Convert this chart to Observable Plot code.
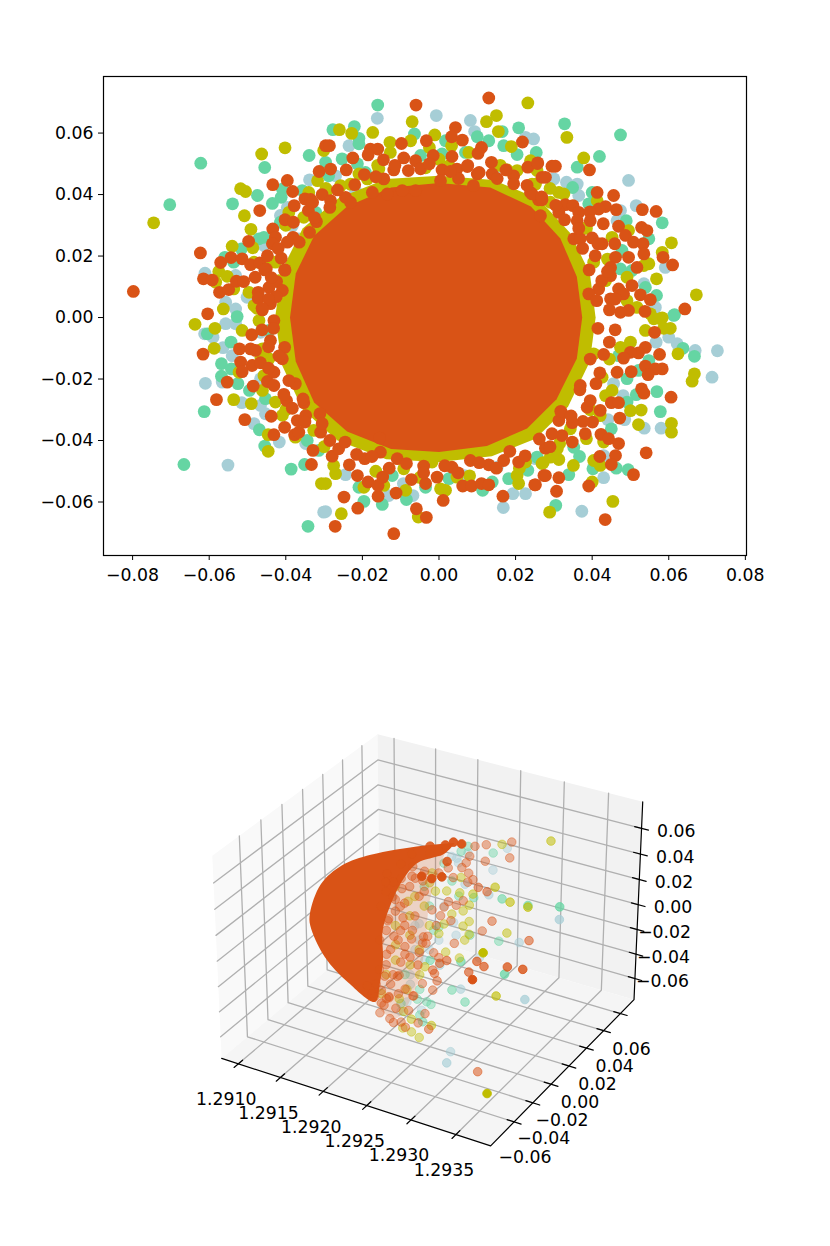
<!DOCTYPE html>
<html>
<head>
<meta charset="utf-8">
<script src="https://cdn.jsdelivr.net/npm/d3@7"></script>
<script src="https://cdn.jsdelivr.net/npm/@observablehq/plot@0.6"></script>
<style>
  html, body { margin: 0; padding: 0; background: white; }
  svg { display: block; }
</style>
</head>
<body>
<div id="chart"></div>
<script>
// scatter colours, drawn in this order
const tealColor = "#a6ced6", greenColor = "#65d5a3", oliveColor = "#c0bd00", orangeColor = "#d95316";

// top panel, [x, y]
const tealTop = [[-.0338,.0448],[-.0611,.0144],[-.0531,.0137],[-.0557,.0050],[-.0531,.0028],[-.0501,.0066],[-.0414,.0332],[-.0383,.0299],[-.0396,.0358],[-.0457,.0234],[-.0366,.0256],[-.0557,-.0020],[-.0531,-.0020],
  [-.0612,-.0053],[-.0590,-.0064],[-.0564,-.0098],[-.0540,-.0124],[-.0610,-.0214],[-.0566,-.0210],[-.0551,-.0480],[-.0515,-.0277],[-.0483,-.0345],[-.0453,-.0313],[-.0417,-.0405],[-.0348,-.0410],[-.0301,-.0633],[-.0466,-.0286],[-.0466,-.0048],[-.0466,-.0199],
  [-.0161,.0648],[-.0007,.0657],[.0082,.0641],[.0093,.0605],[-.0235,.0559],[.0247,.0581],[.0226,.0586],[.0155,.0491],[-.0218,.0413],[-.0270,.0461],
  [.0495,.0446],[.0361,.0434],[.0333,.0440],[.0365,.0397],[.0300,.0451],[.0515,.0364],[.0474,.0348],[.0465,.0315],[.0591,.0163],[.0535,.0110],[.0565,.0033],
  [.0727,-.0108],[.0669,-.0107],[.0713,-.0194],[.0622,-.0085],[.0600,-.0064],[.0567,-.0080],[.0580,-.0360],[.0536,-.0360],[.0485,-.0332],[.0441,-.0332],[.0481,-.0254],[.0456,-.0215],[.0430,-.0521],[.0373,-.0630],[.0430,-.0449],
  [-.0296,-.0631],[-.0131,-.0579],[-.0068,-.0579],[-.0093,-.0540],[-.0244,-.0511],[.0168,-.0618],[.0193,-.0573],[.0226,-.0573],[.0067,-.0514],[.0152,-.0487],[.0252,-.0459]];
const greenTop = [[-.0622,.0502],[-.0703,.0367],[-.0455,.0488],[-.0339,.0527],[-.0474,.0397],[-.0539,.0370],[-.0435,.0371],[-.0412,.0391],[-.0470,.0256],[-.0457,.0261],[-.0559,.0196],[-.0536,.0180],[-.0516,.0223],[-.0527,.0003],[-.0296,.0505],[-.0357,.0413],[-.0414,.0310],[-.0322,.0342],[-.0409,.0418],
  [-.0605,-.0053],[-.0543,-.0080],[-.0568,-.0150],[-.0568,-.0191],[-.0542,-.0167],[-.0525,-.0215],[-.0495,-.0237],[-.0613,-.0306],[-.0666,-.0478],[-.0469,-.0365],[-.0455,-.0418],[-.0386,-.0493],[-.0351,-.0478],[-.0342,-.0679],[-.0314,-.0432],[-.0344,-.0400],[-.0444,-.0042],[-.0453,-.0264],
  [-.0160,.0691],[-.0277,.0611],[-.0221,.0621],[-.0209,.0583],[-.0209,.0565],[-.0064,.0597],[.0208,.0617],[.0165,.0605],[.0100,.0588],[.0130,.0575],[.0169,.0559],[.0254,.0537],[.0204,.0530],[.0017,.0575],[-.0253,.0516],[-.0288,.0461],[-.0192,.0472],[-.0213,.0500],[.0069,.0537],[.0008,.0532],[-.0048,.0527],
  [.0328,.0630],[.0474,.0594],[.0419,.0524],[.0361,.0489],[.0349,.0423],[.0400,.0407],[.0583,.0308],[.0548,.0256],[.0489,.0315],[.0568,.0072],[.0539,.0098],[.0615,.0009],[.0474,.0158],[.0504,.0153],[.0391,.0370],[.0478,.0218],
  [.0613,.0007],[.0637,-.0100],[.0667,-.0126],[.0569,-.0241],[.0515,-.0251],[.0578,-.0306],[.0491,-.0275],[.0491,-.0199],[.0450,-.0362],[.0367,-.0452],[.0339,-.0511],[.0402,-.0492],[.0463,-.0490],[.0494,-.0495],[.0305,-.0611],[.0548,-.0140],[.0469,-.0124],[.0352,-.0422],[.0521,-.0172],
  [-.0196,-.0598],[-.0148,-.0608],[-.0085,-.0592],[-.0209,-.0552],[-.0122,-.0514],[-.0035,-.0552],[.0114,-.0562],[.0232,-.0497],[.0182,-.0524],[.0026,-.0524],[.0139,-.0535],[.0256,-.0454]];
const oliveTop = [[-.0463,.0532],[-.0402,.0552],[-.0745,.0308],[-.0518,.0419],[-.0505,.0410],[-.0508,.0331],[-.0491,.0287],[-.0540,.0232],[-.0486,.0227],[-.0575,.0150],[-.0553,.0134],[-.0583,.0115],[-.0563,.0028],[-.0637,-.0022],[-.0585,-.0035],[-.0587,-.0100],[-.0317,.0445],[-.0301,.0543],[-.0340,.0407],[-.0353,.0326],[-.0392,.0342],[-.0483,.0180],[-.0496,.0082],[-.0483,.0039],[-.0536,.0093],[-.0418,.0120],[-.0427,.0180],
  [-.0536,-.0267],[-.0490,-.0280],[-.0514,-.0042],[-.0470,-.0010],[-.0522,-.0178],[-.0461,-.0237],[-.0427,-.0275],[-.0409,-.0318],[-.0446,-.0381],[-.0446,-.0435],[-.0375,-.0389],[-.0327,-.0367],[-.0307,-.0540],[-.0461,-.0102],[-.0444,-.0134],[-.0457,-.0189],[-.0322,-.0275],
  [-.0260,.0611],[-.0228,.0599],[-.0173,.0602],[-.0070,.0637],[.0232,.0698],[.0124,.0637],[.0150,.0657],[.0155,.0605],[.0189,.0556],[-.0011,.0594],[-.0074,.0575],[-.0128,.0570],[-.0127,.0537],[.0033,.0559],[.0078,.0537],[-.0025,.0553],[-.0209,.0467],[-.0187,.0451],[-.0257,.0429],[-.0231,.0434],[-.0157,.0483],[.0178,.0480],[.0204,.0478],[.0239,.0510],[.0256,.0478],[.0243,.0434],[-.0292,.0413],[.0026,.0494],[-.0035,.0487],[.0121,.0423],
  [.0334,.0586],[.0378,.0519],[.0252,.0434],[.0291,.0375],[.0313,.0407],[.0326,.0402],[.0607,.0243],[.0583,.0212],[.0548,.0175],[.0535,.0169],[.0568,.0126],[.0672,.0074],[.0491,.0131],[.0495,.0283],[.0413,.0380],[.0517,.0033],[.0583,-.0001],[.0552,.0012],[.0374,.0082],[.0404,.0180],[.0369,.0293],[.0491,.0055],[.0452,.0261],
  [.0539,-.0042],[.0587,-.0035],[.0604,-.0035],[.0561,-.0004],[.0578,-.0004],[.0624,-.0118],[.0667,-.0183],[.0661,-.0207],[.0500,-.0303],[.0528,-.0301],[.0521,-.0348],[.0607,-.0344],[.0607,-.0373],[.0452,-.0237],[.0435,-.0254],[.0421,-.0319],[.0385,-.0394],[.0430,-.0405],[.0404,-.0465],[.0421,-.0481],[.0351,-.0481],[.0313,-.0462],[.0272,-.0472],[.0291,-.0454],[.0400,-.0535],[.0454,-.0598],[.0289,-.0633],[.0500,-.0080],[.0474,-.0097],[.0404,-.0118],[.0426,-.0194],[.0343,-.0362],[.0309,-.0427],
  [-.0255,-.0638],[-.0270,-.0508],[-.0296,-.0540],[-.0054,-.0649],[-.0087,-.0562],[.0004,-.0557],[.0017,-.0562],[.0208,-.0540],[.0204,-.0514],[.0226,-.0470],[-.0196,-.0552],[-.0144,-.0546],[-.0018,-.0470],[.0047,-.0519],[-.0275,-.0481],[.0269,-.0475],[-.0092,-.0492],
  [.0435,.0120],[.0445,-.0135],[.0395,-.0300],[.0315,-.0410],[.0210,-.0490],[.0080,-.0515],[-.0050,-.0520],[-.0165,-.0500],[-.0300,-.0420],[-.0400,-.0300],[-.0465,-.0130],[-.0475,.0030],[-.0450,.0170],[-.0400,.0300],[-.0295,.0420],[-.0160,.0495],[.0000,.0515],[.0160,.0495],[.0290,.0420],[.0385,.0290],[.0440,.0190]];
const orangeTop = [[-.0798,.0085],[-.0623,.0210],[-.0570,.0179],[-.0543,.0195],[-.0514,.0191],[-.0615,.0126],[-.0592,.0122],[-.0573,.0082],[-.0549,.0091],[-.0529,.0118],[-.0510,.0117],[-.0480,.0131],[-.0492,.0172],[-.0468,.0178],[-.0451,.0158],[-.0448,.0201],[-.0497,.0248],[-.0434,.0288],[-.0468,.0348],[-.0402,.0318],[-.0434,.0432],[-.0396,.0446],[-.0382,.0410],[-.0378,.0364],[-.0313,.0475],[-.0350,.0386],[-.0335,.0384],[-.0341,.0348],[-.0305,.0400],[-.0320,.0312],[-.0338,.0277],[-.0381,.0261],[-.0427,.0261],[-.0435,.0240],[-.0396,.0245],[-.0412,.0193],[-.0403,.0154],[-.0424,.0117],[-.0444,.0098],[-.0472,.0082],[-.0472,.0063],[-.0409,.0088],[-.0461,.0025],[-.0440,.0045],[-.0604,.0012],[-.0296,.0559],
  [.0130,.0714],[-.0060,.0691],[.0043,.0618],[.0033,.0588],[.0061,.0577],[-.0033,.0575],[-.0286,.0559],[-.0098,.0566],[-.0179,.0548],[-.0160,.0548],[-.0185,.0529],[.0111,.0553],[.0102,.0534],[-.0225,.0519],[-.0015,.0527],[.0034,.0524],[-.0145,.0513],[-.0092,.0519],[-.0283,.0483],[-.0242,.0480],[.0137,.0505],[.0232,.0489],[.0257,.0501],[.0218,.0571],[.0269,.0456],[-.0118,.0480],[-.0061,.0510],[.0008,.0480],[.0047,.0483],[.0074,.0491],[.0100,.0467],[.0139,.0467],[.0195,.0461],[-.0144,.0451],[-.0048,.0484],[.0004,.0445],[.0051,.0452],[.0152,.0452],[.0090,.0429],[-.0244,.0391],[-.0174,.0407],[-.0096,.0413],[-.0061,.0413],[-.0283,.0380],[-.0231,.0375],[-.0135,.0402],[.0239,.0407],[.0260,.0383],
  [.0258,.0503],[.0295,.0492],[.0304,.0492],[.0393,.0480],[.0278,.0456],[.0413,.0407],[.0456,.0397],[.0463,.0351],[.0435,.0361],[.0417,.0353],[.0531,.0351],[.0567,.0345],[.0330,.0367],[.0350,.0364],[.0313,.0342],[.0365,.0342],[.0394,.0344],[.0265,.0331],[.0269,.0383],[.0243,.0402],[.0395,.0315],[.0361,.0315],[.0429,.0305],[.0469,.0297],[.0529,.0293],[.0543,.0283],[.0487,.0267],[.0508,.0245],[.0533,.0240],[.0459,.0240],[.0426,.0240],[.0400,.0259],[.0352,.0256],[.0369,.0256],[.0535,.0207],[.0461,.0196],[.0495,.0196],[.0585,.0196],[.0610,.0171],[.0517,.0163],[.0448,.0163],[.0408,.0201],[.0448,.0136],[.0504,.0104],[.0469,.0093],[.0526,.0074],[.0482,.0077],[.0552,.0058],[.0417,.0093],[.0391,.0077],[.0448,.0061],[.0642,.0028],[.0538,.0020],[.0495,.0023],[.0474,.0017],
  [-.0616,-.0119],[-.0489,-.0056],[-.0521,-.0102],[-.0440,-.0075],[-.0403,-.0097],[-.0431,-.0010],[-.0492,-.0102],[-.0479,-.0107],[-.0518,-.0145],[-.0488,-.0156],[-.0466,-.0147],[-.0514,-.0176],[-.0553,-.0210],[-.0485,-.0223],[-.0448,-.0208],[-.0431,-.0221],[-.0431,-.0178],[-.0409,-.0134],[-.0581,-.0267],[-.0507,-.0332],[-.0438,-.0321],[-.0403,-.0357],[-.0431,-.0381],[-.0377,-.0381],[-.0366,-.0373],[-.0370,-.0335],[-.0348,-.0319],[-.0311,-.0313],[-.0309,-.0373],[-.0329,-.0432],[-.0333,-.0478],[-.0398,-.0270],[-.0383,-.0295],[-.0353,-.0277],[-.0375,-.0215],
  [-.0248,-.0584],[-.0212,-.0620],[-.0271,-.0679],[-.0118,-.0703],[-.0059,-.0622],[-.0033,-.0650],[.0011,-.0595],[-.0159,-.0581],[-.0112,-.0571],[-.0185,-.0535],[-.0159,-.0546],[-.0147,-.0519],[-.0213,-.0514],[-.0234,-.0479],[-.0279,-.0451],[-.0072,-.0527],[-.0035,-.0540],[-.0005,-.0519],[.0062,-.0548],[.0085,-.0548],[.0111,-.0540],[.0130,-.0544],[.0167,-.0581],[.0208,-.0470],[.0250,-.0544],[.0034,-.0487],[.0130,-.0479],[.0169,-.0465],[.0274,-.0514],[-.0040,-.0483],[-.0109,-.0459],[-.0194,-.0459],[-.0153,-.0438],[-.0262,-.0427],[.0082,-.0465],[-.0155,-.0392],
  [.0563,-.0048],[.0576,-.0120],[.0539,-.0097],[.0521,-.0115],[.0500,-.0113],[.0482,-.0132],[.0539,-.0158],[.0583,-.0167],[.0565,-.0167],[.0546,-.0186],[.0502,-.0176],[.0465,-.0178],[.0529,-.0232],[.0535,-.0246],[.0606,-.0259],[.0410,-.0215],[.0369,-.0221],[.0450,-.0277],[.0469,-.0277],[.0387,-.0292],[.0421,-.0302],[.0472,-.0327],[.0401,-.0340],[.0376,-.0338],[.0348,-.0342],[.0321,-.0311],[.0313,-.0335],[.0382,-.0378],[.0423,-.0380],[.0443,-.0394],[.0469,-.0410],[.0348,-.0405],[.0321,-.0384],[.0295,-.0378],[.0278,-.0425],[.0461,-.0449],[.0420,-.0452],[.0450,-.0478],[.0541,-.0440],[.0508,-.0511],[.0278,-.0514],[.0313,-.0521],[.0252,-.0544],[.0307,-.0565],[.0391,-.0548],[.0434,-.0657],
  [.0030,.0475],[-.0080,.0478],[-.0165,.0458],[-.0220,.0432],[-.0285,.0358],[-.0325,.0325],[-.0365,.0245],[-.0402,.0155],[-.0425,.0068],[-.0432,-.0035],[-.0418,-.0125],[-.0392,-.0205],[-.0355,-.0265],[-.0305,-.0345],[-.0245,-.0405],[-.0175,-.0452],[-.0085,-.0475],[.0015,-.0482],[.0105,-.0472],[.0185,-.0435],[.0262,-.0395],[.0318,-.0305],[.0368,-.0235],[.0395,-.0135],[.0415,-.0035],[.0412,.0055],[.0392,.0155],[.0375,.0225],[.0328,.0318],[.0268,.0392],[.0195,.0435],[.0105,.0472],
  [.0445,-.0080],[.0445,.0025],[.0425,.0120],[.0420,-.0180],[-.0445,.0060],[-.0445,-.0095],[-.0455,.0155],
  [-.0265,.0415],[-.0330,.0375],[-.0380,.0310],[-.0420,.0225],[-.0438,.0130],[-.0462,.0030],[-.0462,-.0040],[-.0445,-.0165],[-.0405,-.0250],[-.0350,-.0340],[-.0285,-.0400],[-.0215,-.0445],[-.0130,-.0490],[-.0040,-.0505],[.0050,-.0505],[.0150,-.0490],[.0225,-.0450],[.0290,-.0420],[.0345,-.0320],[.0395,-.0270],[.0430,-.0120],[.0460,-.0040],[.0460,.0060],[.0440,.0150],[.0415,.0240],[.0365,.0290],[.0305,.0365],[.0230,.0430],[.0175,.0480],[.0075,.0495],[-.0025,.0500],[-.0115,.0495],[-.0195,.0465]];
// outlines of the areas too dense to tell single points apart
const oliveDenseTop = [[0,.0461],[.0143,.0447],[.0261,.0385],[.0342,.0276],[.0394,.0143],[.0409,0],[.0394,-.0143],[.0337,-.0290],[.0252,-.0394],[.0138,-.0451],[0,-.0470],[-.0138,-.0461],[-.0266,-.0399],[-.0356,-.0299],[-.0409,-.0157],[-.0428,0],[-.0409,.0157],[-.0356,.0290],[-.0261,.0390],[-.0138,.0451]];
const orangeDenseTop = [[0,.0438],[.0134,.0423],[.0240,.0361],[.0317,.0257],[.0360,.0133],[.0374,0],[.0360,-.0133],[.0307,-.0266],[.0230,-.0361],[.0125,-.0418],[0,-.0437],[-.0125,-.0428],[-.0240,-.0371],[-.0326,-.0276],[-.0374,-.0143],[-.0389,0],[-.0374,.0143],[-.0326,.0266],[-.0240,.0361],[-.0125,.0423]];
const xTicksTop = [-.08, -.06, -.04, -.02, 0, .02, .04, .06, .08];
const yTicksTop = [-.06, -.04, -.02, 0, .02, .04, .06];

// bottom panel, [x, y, z]
const teal3d = [[1.29275,.0383,.0470],[1.29259,.0383,.0270],[1.29284,.0101,.0301],[1.29363,.0101,.0262],[1.29319,.0101,-.0004],[1.29283,-.0181,-.0255],[1.29355,-.0181,-.0187],[1.29247,.0101,-.0089],[1.29244,.0101,.0008],[1.29217,.0383,.0286],[1.29257,.0101,.0332],[1.29274,.0101,-.0216],[1.29211,.0383,.0288],[1.29204,.0101,-.0081],[1.29298,-.0463,-.0610],[1.29287,-.0322,-.0647],[1.29221,-.0181,-.0487],[1.29214,-.0181,-.0580],[1.29238,-.0181,-.0518],[1.29219,.0383,.0252],[1.29230,.0383,.0351],[1.29216,.0101,-.0267],[1.29259,-.0181,-.0115],[1.29225,-.0181,-.0337],[1.29199,.0101,-.0301],
  [1.29204,.0101,-.0213],[1.29227,.0101,-.0168],[1.29242,-.0181,-.0111],[1.29199,.0101,-.0107],[1.29233,.0101,.0115],[1.29225,-.0181,-.0260]];
const green3d = [[1.29259,.0383,.0404],[1.29230,.0383,.0403],[1.29299,.0101,.0298],[1.29328,.0101,.0303],[1.29363,.0101,.0360],[1.29296,.0101,-.0039],[1.29283,-.0181,-.0037],[1.29332,-.0181,-.0036],[1.29273,-.0181,-.0283],[1.29288,-.0181,-.0347],[1.29244,-.0181,-.0437],[1.29249,-.0181,-.0448],[1.29267,.0101,.0246],[1.29250,.0101,.0226],[1.29263,.0101,-.0058],[1.29242,.0101,.0328],[1.29227,.0101,-.0064],[1.29222,.0383,.0349],[1.29255,-.0322,-.0476],[1.29236,-.0181,-.0561],[1.29233,-.0181,-.0439],[1.29219,-.0181,-.0271],[1.29202,.0383,.0218],[1.29216,.0101,.0082],
  [1.29248,-.0181,-.0099],[1.29236,-.0181,-.0354],[1.29214,-.0181,-.0515],[1.29221,.0101,-.0101],[1.29210,.0101,.0225]];
const olive3d = [[1.29324,.0383,.0616],[1.29269,.0383,.0490],[1.29291,.0101,.0373],[1.29308,.0101,.0290],[1.29328,.0101,.0290],[1.29262,.0101,.0178],[1.29305,.0101,.0043],[1.29262,.0101,.0049],[1.29255,.0101,-.0001],[1.29257,.0101,-.0108],[1.29262,.0101,-.0052],[1.29367,-.0745,.0576],[1.29323,-.0181,-.0226],[1.29251,.0101,-.0263],[1.29235,.0101,-.0248],[1.29266,.0101,.0272],[1.29251,.0101,.0253],[1.29255,.0101,.0119],[1.29236,.0101,.0239],[1.29223,.0101,.0213],[1.29242,.0101,.0069],[1.29227,.0101,-.0116],[1.29233,.0101,-.0027],[1.29222,.0383,.0142],[1.29188,.0383,.0114],[1.29242,-.0181,-.0162],[1.29373,-.0745,-.0476],[1.29251,-.0322,-.0611],[1.29242,-.0322,-.0585],[1.29232,-.0322,-.0575],[1.29265,-.0322,-.0484],[1.29242,-.0322,-.0482],[1.29217,-.0181,-.0572],[1.29221,-.0181,-.0384],[1.29212,-.0181,-.0480],[1.29199,.0101,.0125],[1.29210,.0101,.0070],[1.29193,.0101,-.0041],[1.29216,.0101,-.0073],[1.29208,-.0181,-.0178],[1.29236,-.0181,-.0238],
  [1.29176,.0101,.0158],[1.29191,.0101,.0071],[1.29176,.0101,-.0152],[1.29193,.0101,-.0196],[1.29176,.0101,-.0307],[1.29197,-.0181,-.0316],[1.29225,-.0181,-.0182],[1.29191,-.0181,-.0482],[1.29204,.0101,-.0290],[1.29185,.0383,.0030]];
const orange3d = [[1.29280,.0383,.0528],[1.29251,.0383,.0454],[1.29238,.0383,.0418],[1.29250,.0383,.0323],[1.29278,.0383,.0401],[1.29232,.0383,.0329],[1.29228,.0383,.0270],[1.29223,.0383,.0222],[1.29231,.0383,.0193],[1.29236,.0383,.0151],[1.29272,.0101,.0336],[1.29282,.0101,.0321],[1.29288,.0101,.0103],[1.29277,.0101,.0004],[1.29330,.0101,.0033],[1.29245,.0101,-.0158],[1.29301,-.0181,.0000],[1.29309,-.0181,-.0024],[1.29335,-.0181,.0026],[1.29352,-.0181,.0042],[1.29292,-.0181,-.0102],[1.29356,-.0745,.0355],[1.29247,.0101,.0148],[1.29233,.0101,.0107],[1.29238,.0101,.0159],[1.29241,.0101,.0015],[1.29229,.0101,.0030],[1.29219,.0101,.0057],[1.29267,-.0181,-.0062],[1.29227,.0101,-.0309],[1.29221,.0101,-.0282],[1.29253,-.0181,-.0193],[1.29256,-.0181,-.0245],[1.29251,-.0181,-.0329],[1.29239,-.0181,-.0302],[1.29242,-.0181,-.0537],[1.29270,-.0463,.0770],[1.29281,-.0463,.0773],[1.29292,-.0463,.0807],[1.29265,-.0181,.0820],[1.29283,-.0181,.0861],[1.29274,-.0181,.0858],[1.29248,-.0181,.0780],[1.29267,-.0181,.0700],[1.29212,.0101,-.0223],[1.29209,.0101,-.0178],[1.29214,.0101,-.0163],[1.29318,-.0322,-.0740],[1.29262,-.0322,-.0520],[1.29230,-.0322,-.0531],[1.29217,-.0322,-.0531],[1.29229,-.0181,-.0421],[1.29200,-.0181,-.0497],[1.29191,-.0181,-.0456],[1.29212,-.0181,-.0291],[1.29195,-.0181,-.0333],
  [1.29165,.0383,.0122],[1.29177,.0383,.0029],[1.29184,.0101,.0158],[1.29164,.0383,.0043],[1.29174,.0101,.0193],[1.29187,.0101,.0049],[1.29176,.0101,.0057],[1.29185,.0101,-.0072],[1.29167,.0101,-.0131],[1.29174,.0101,-.0242],[1.29196,.0101,-.0151],[1.29195,.0101,-.0223],[1.29182,.0101,-.0180],[1.29208,.0101,-.0229],[1.29187,.0101,-.0300],[1.29204,.0101,-.0313],[1.29174,-.0181,-.0454],[1.29183,-.0181,-.0521],[1.29194,-.0181,-.0569],[1.29193,.0101,-.0374],[1.29234,-.0181,-.0164],[1.29210,-.0181,-.0304],[1.29200,-.0181,-.0488],[1.29228,-.0181,-.0424],[1.29251,-.0181,-.0170],[1.29259,-.0181,-.0100],
  [1.29151,.0383,.0117],[1.29179,.0383,.0111],[1.29196,.0383,.0129],[1.29134,.0383,.0006],[1.29165,.0101,.0097],[1.29193,.0101,.0192],[1.29204,.0101,.0136],[1.29176,.0101,-.0036],[1.29199,.0101,-.0030],[1.29165,.0101,-.0213],[1.29187,.0101,-.0129],[1.29170,.0101,-.0357],[1.29214,-.0181,-.0182],[1.29197,-.0181,-.0238],[1.29185,-.0181,-.0416],[1.29202,-.0181,-.0382],[1.29219,-.0181,-.0387],[1.29191,-.0181,-.0559],[1.29208,-.0181,-.0565],[1.29223,-.0181,-.0552],[1.29210,.0101,.0186],[1.29224,.0101,-.0058],
  [1.29165,.0101,.0175],[1.29173,.0101,.0073],[1.29159,.0101,-.0030],[1.29182,.0101,.0014],[1.29168,.0101,-.0114],[1.29157,.0101,-.0307],[1.29179,.0101,-.0262],[1.29165,.0101,-.0407],[1.29187,.0101,-.0362],[1.29189,-.0181,-.0293],[1.29205,-.0181,-.0301],[1.29180,-.0181,-.0505],[1.29197,-.0181,-.0510],[1.29211,-.0181,-.0442],[1.29189,-.0181,-.0642],[1.29205,-.0181,-.0688],[1.29219,-.0181,-.0697],[1.29234,-.0181,-.0629],[1.29164,.0383,.0221],[1.29185,.0383,.0262],[1.29196,.0383,.0300],[1.29151,.0383,.0000],[1.29168,.0383,.0034],[1.29207,.0383,.0190],[1.29213,.0383,.0124],[1.29255,.0101,.0199],[1.29230,.0383,.0119]];
// solid part of the paraboloid, and the paler part next to it
const orangeDense3d = [[1.29260,-.004,.0741],[1.29224,-.004,.0654],[1.29164,-.004,.0473],[1.29130,-.004,.0328],[1.29104,-.004,.0129],[1.29090,-.004,-.0129],[1.29090,-.004,-.0230],[1.29107,-.004,-.0453],[1.29135,-.004,-.0606],[1.29167,-.004,-.0698],[1.29173,-.004,-.0532],[1.29177,-.004,-.0330],[1.29177,-.004,-.0097],[1.29186,-.004,.0115],[1.29200,-.004,.0336],[1.29218,-.004,.0511],[1.29249,-.004,.0641]];
const orangePale3d = [[1.29249,-.004,.0641],[1.29232,-.004,.0244],[1.29226,-.004,-.0156],[1.29215,-.004,-.0488],[1.29192,-.004,-.0781],[1.29167,-.004,-.0698],[1.29164,-.004,-.0124],[1.29198,-.004,.0408]];
const xTicks3d = [1.291, 1.2915, 1.292, 1.2925, 1.293, 1.2935];
const yTicks3d = [-.06, -.04, -.02, 0, .02, .04, .06];
const zTicks3d = [-.06, -.04, -.02, 0, .02, .04, .06];
const xLim3d = [1.2908, 1.29388], yLim3d = [-.0845, .0765], zLim3d = [-.0775, .0805];

const fontFamily = '"DejaVu Sans", sans-serif';
const tickFontSize = 17.3;

// ---------- top panel ----------
const topPanel = Plot.plot({
  width: 830,
  height: 623,
  marginLeft: 103,
  marginRight: 84,
  marginTop: 76,
  marginBottom: 68,
  style: {background: "transparent", fontFamily: fontFamily, color: "black"},
  x: {domain: [-.0876, .0803]},
  y: {domain: [-.0774, .0784]},
  marks: [
    Plot.dot(tealTop, {x: "0", y: "1", r: 6.4, fill: tealColor}),
    Plot.dot(greenTop, {x: "0", y: "1", r: 6.4, fill: greenColor}),
    Plot.line(oliveDenseTop.concat([oliveDenseTop[0]]), {x: "0", y: "1", fill: oliveColor, stroke: "none"}),
    Plot.dot(oliveTop, {x: "0", y: "1", r: 6.4, fill: oliveColor}),
    Plot.line(orangeDenseTop.concat([orangeDenseTop[0]]), {x: "0", y: "1", fill: orangeColor, stroke: "none"}),
    Plot.dot(orangeTop, {x: "0", y: "1", r: 6.4, fill: orangeColor}),
    Plot.frame({stroke: "black", strokeWidth: 1.2}),
    Plot.axisX({ticks: xTicksTop, tickFormat: d3.format(".2f"), tickSize: 5, tickPadding: 8, fontSize: tickFontSize, label: null}),
    Plot.axisY({ticks: yTicksTop, tickFormat: d3.format(".2f"), tickSize: 5, tickPadding: 5, fontSize: tickFontSize, label: null})
  ]
});

// ---------- bottom panel ----------
// same camera as a default mplot3d axes: elev 30, azim -60, dist 10, box 4:4:3
const boxSize = [1.1429, 1.1429, .8572];
const uAxis = [.8660, .5, 0], vAxis = [-.25, .4330, .8660], wAxis = [.4330, -.75, .5];
const camScale = 2697, camX = 431, camY = 930;
function rel(v, lim, size) { return ((v - lim[0]) / (lim[1] - lim[0]) - .5) * size; }
function dot3(a, b) { return a[0] * b[0] + a[1] * b[1] + a[2] * b[2]; }
function project(p) {
  const m = [rel(p[0], xLim3d, boxSize[0]), rel(p[1], yLim3d, boxSize[1]), rel(p[2], zLim3d, boxSize[2])];
  const depth = 10 - dot3(wAxis, m);
  return {
    px: camX + camScale * dot3(uAxis, m) / depth,
    py: camY - camScale * dot3(vAxis, m) / depth,
    near: dot3(wAxis, m)
  };
}
function xy(points) { return points.map(project); }
function path(points, options) { return Plot.line(xy(points), {x: "px", y: "py", ...options}); }
function pane(points, color) { return path(points.concat([points[0]]), {fill: color, stroke: "none"}); }

const [x0, x1] = xLim3d, [y0, y1] = yLim3d, [z0, z1] = zLim3d;
const xPad = (x1 - x0) * .025, yPad = (y1 - y0) * .025;

// nearer points are more opaque
function shaded(points, color) {
  const alpha = d => .42 + .58 * Math.max(0, Math.min(1, d.near / .4));
  return Plot.dot(xy(points), {x: "px", y: "py", r: 4.3, fill: color, stroke: color, strokeWidth: 1,
    fillOpacity: alpha, strokeOpacity: alpha});
}

const gridMarks = [];
const gridStyle = {stroke: "#b0b0b0", strokeWidth: 1.3};
xTicks3d.forEach(t => {
  gridMarks.push(path([[t, y0, z0], [t, y1, z0], [t, y1, z1]], gridStyle));
});
yTicks3d.forEach(t => {
  gridMarks.push(path([[x1, t, z0], [x0, t, z0], [x0, t, z1]], gridStyle));
});
zTicks3d.forEach(t => {
  gridMarks.push(path([[x0, y0, t], [x0, y1, t], [x1, y1, t]], gridStyle));
});

const axisStyle = {stroke: "black", strokeWidth: 1.2};
const tickMarks = [];
xTicks3d.forEach(t => tickMarks.push(path([[t, y0 - yPad, z0], [t, y0 + yPad, z0]], axisStyle)));
yTicks3d.forEach(t => tickMarks.push(path([[x1 - xPad, t, z0], [x1 + xPad, t, z0]], axisStyle)));
zTicks3d.forEach(t => tickMarks.push(path([[x1 - xPad, y1, t], [x1 + xPad, y1, t]], axisStyle)));

const minus = d => d3.format(".2f")(d);

const bottomPanel = Plot.plot({
  width: 830,
  height: 623,
  margin: 0,
  axis: null,
  style: {background: "transparent", fontFamily: fontFamily, color: "black"},
  x: {domain: [0, 830], range: [0, 830]},
  y: {domain: [623, 1246], range: [0, 623]},
  opacity: {type: "identity"},
  marks: [
    pane([[x0, y0, z0], [x0, y1, z0], [x0, y1, z1], [x0, y0, z1]], "#f9f9f9"),
    pane([[x0, y1, z0], [x1, y1, z0], [x1, y1, z1], [x0, y1, z1]], "#f2f2f2"),
    pane([[x0, y0, z0], [x1, y0, z0], [x1, y1, z0], [x0, y1, z0]], "#f5f5f5"),
    ...gridMarks,
    path([[x0, y0, z0], [x1, y0, z0], [x1, y1, z0], [x1, y1, z1]], axisStyle),
    ...tickMarks,
    shaded(teal3d, tealColor),
    shaded(green3d, greenColor),
    shaded(olive3d, oliveColor),
    path(orangePale3d.concat([orangePale3d[0]]), {fill: orangeColor, fillOpacity: .2, stroke: "none", curve: "catmull-rom"}),
    path(orangeDense3d.concat([orangeDense3d[0]]), {fill: orangeColor, stroke: "none", curve: "catmull-rom"}),
    shaded(orange3d, orangeColor),
    Plot.text(xy(xTicks3d.map(t => [t, y0, z0])), {x: "px", y: "py", text: (d, i) => xTicks3d[i].toFixed(4), dx: -12, dy: 36, fontSize: tickFontSize}),
    Plot.text(xy(yTicks3d.map(t => [x1, t, z0])), {x: "px", y: "py", text: (d, i) => minus(yTicks3d[i]), dx: 11, dy: 36, fontSize: tickFontSize}),
    Plot.text(xy(zTicks3d.map(t => [x1, y1, t])), {x: "px", y: "py", text: (d, i) => minus(zTicks3d[i]), textAnchor: "end", dx: 54, dy: 3, fontSize: tickFontSize})
  ]
});

const chart = document.getElementById("chart");
chart.appendChild(topPanel);
chart.appendChild(bottomPanel);
</script>
</body>
</html>
